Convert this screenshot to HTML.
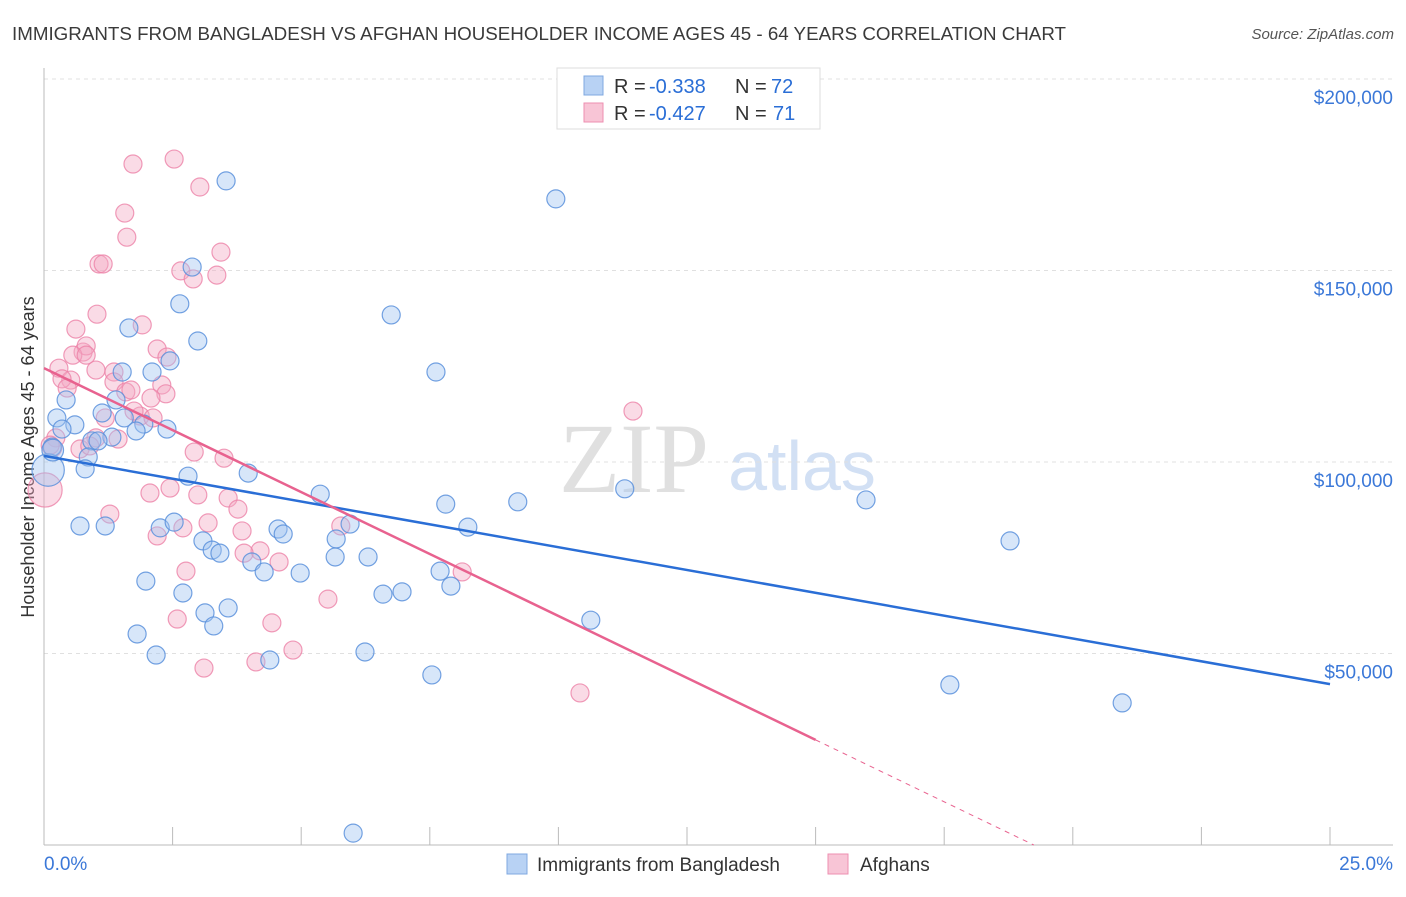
<!DOCTYPE html>
<html><head><meta charset="utf-8"><style>
body{margin:0;background:#fff;font-family:"Liberation Sans",sans-serif;}
</style></head><body>
<svg id="chart" width="1406" height="892" xmlns="http://www.w3.org/2000/svg" font-family="Liberation Sans, sans-serif">
<text x="12" y="40" font-size="18" fill="#3a3a3a" textLength="1054" lengthAdjust="spacingAndGlyphs">IMMIGRANTS FROM BANGLADESH VS AFGHAN HOUSEHOLDER INCOME AGES 45 - 64 YEARS CORRELATION CHART</text>
<text x="1394" y="39" font-size="15" fill="#555" font-style="italic" text-anchor="end">Source: ZipAtlas.com</text>
<text transform="translate(34,457) rotate(-90)" font-size="18" fill="#333" text-anchor="middle">Householder Income Ages 45 - 64 years</text>
<g>
<text x="634" y="492" font-size="100" style="font-family:'Liberation Serif',serif" fill="#e0e0e0" text-anchor="middle">ZIP</text>
<text x="802" y="490" font-size="70" fill="#d2e0f4" text-anchor="middle">atlas</text>
</g>
<g id="grid"></g><g id="axes"></g><g id="pts"></g><g id="lines"></g>
<g>
<rect x="557" y="68" width="263" height="61" fill="#fff" stroke="#ddd"/>
<rect x="584" y="76" width="19" height="19" fill="#b8d2f4" stroke="#7fa8e0"/>
<rect x="584" y="103" width="19" height="19" fill="#f8c5d6" stroke="#ee8fb0"/>
<text x="614" y="93" font-size="20" fill="#333">R =</text>
<text x="649" y="93" font-size="20" fill="#2a6ed6">-0.338</text>
<text x="735" y="93" font-size="20" fill="#333">N =</text>
<text x="771" y="93" font-size="20" fill="#2a6ed6">72</text>
<text x="614" y="120" font-size="20" fill="#333">R =</text>
<text x="649" y="120" font-size="20" fill="#2a6ed6">-0.427</text>
<text x="735" y="120" font-size="20" fill="#333">N =</text>
<text x="773" y="120" font-size="20" fill="#2a6ed6">71</text>
</g>
<g>
<rect x="507" y="854" width="20" height="20" fill="#b8d2f4" stroke="#7fa8e0"/>
<text x="537" y="871" font-size="19" fill="#333">Immigrants from Bangladesh</text>
<rect x="828" y="854" width="20" height="20" fill="#f8c5d6" stroke="#ee8fb0"/>
<text x="860" y="871" font-size="19" fill="#333">Afghans</text>
</g>
</svg>
<script>
const yTicks=[50000,100000,150000,200000];
const yTickLabels=["$50,000","$100,000","$150,000","$200,000"];
const xTickValues=[0,2.5,5,7.5,10,12.5,15,17.5,20,22.5,25];
const xEndLabels=["0.0%","25.0%"];
const blueX=[3.54,9.95,2.88,2.64,6.75,1.65,2.99,2.45,2.10,7.62,1.52,0.43,1.40,0.25,1.13,1.56,0.60,0.35,1.94,1.79,2.39,0.93,1.32,1.05,0.16,0.86,0.80,3.97,2.80,5.37,7.81,9.21,11.29,15.98,0.70,1.19,2.26,2.53,4.55,4.65,5.95,8.24,5.68,3.09,3.27,3.42,6.30,5.66,4.04,18.78,4.28,4.98,1.98,7.70,7.91,2.70,6.59,6.96,3.58,3.13,3.30,10.63,1.81,2.18,6.24,4.39,7.54,17.61,20.96,6.01,0.08,0.17];
const blueY=[173.4,168.7,150.9,141.3,138.4,135.0,131.6,126.4,123.5,123.5,123.5,116.2,116.2,111.5,112.8,111.5,109.7,108.6,109.9,108.1,108.6,105.5,106.5,105.5,103.9,101.3,98.2,97.1,96.3,91.6,89.0,89.6,93.0,90.1,83.3,83.3,82.8,84.3,82.5,81.2,83.8,83.0,79.9,79.4,77.0,76.2,75.2,75.2,73.9,79.4,71.3,71.0,68.9,71.5,67.6,65.8,65.5,66.1,61.9,60.6,57.2,58.7,55.1,49.6,50.4,48.3,44.4,41.8,37.1,3.1,97.9,103.1];
const blueSize=[1,1,1,1,1,1,1,1,1,1,1,1,1,1,1,1,1,1,1,1,1,1,1,1,1,1,1,1,1,1,1,1,1,1,1,1,1,1,1,1,1,1,1,1,1,1,1,1,1,1,1,1,1,1,1,1,1,1,1,1,1,1,1,1,1,1,1,1,1,1,1.8,1.2];
const pinkX=[2.53,1.73,3.03,1.57,1.61,1.07,1.15,3.44,2.66,2.90,3.36,1.03,1.91,0.62,0.76,0.82,0.56,2.20,2.39,1.36,0.29,1.01,0.52,0.35,1.36,1.59,1.69,2.29,0.45,2.37,2.08,1.19,1.87,1.75,11.45,0.23,1.01,1.44,0.70,0.17,0.89,2.92,3.50,0.02,2.45,2.06,2.99,3.58,1.28,3.77,3.19,5.77,2.70,2.20,3.85,4.20,3.89,4.57,2.76,8.13,5.52,2.59,4.43,4.84,4.12,3.11,10.42,0.12,2.12,0.82];
const pinkY=[179.1,177.8,171.8,165.0,158.7,151.7,151.7,154.8,149.9,147.8,148.8,138.6,135.8,134.7,128.7,130.3,127.9,129.5,127.4,123.5,124.5,124.0,121.4,121.7,120.9,118.3,118.8,120.1,119.3,117.8,116.7,111.5,112.0,113.3,113.3,106.3,106.3,106.0,103.4,103.7,104.2,102.6,101.0,92.7,93.2,91.9,91.4,90.6,86.4,87.7,84.1,83.3,82.8,80.7,82.0,76.8,76.2,73.9,71.5,71.3,64.2,59.0,58.0,50.9,47.8,46.2,39.7,104.4,111.5,127.9];
const pinkSize=[1,1,1,1,1,1,1,1,1,1,1,1,1,1,1,1,1,1,1,1,1,1,1,1,1,1,1,1,1,1,1,1,1,1,1,1,1,1,1,1,1,1,1,1.9,1,1,1,1,1,1,1,1,1,1,1,1,1,1,1,1,1,1,1,1,1,1,1,1,1,1];
const blueTrend=[101.6,42.0];   // value (k$) at x=0% and x=25%
const pinkTrend=[124.5,-6.47];  // intercept (k$), slope per %
const pinkSolidEnd=15;

const NS="http://www.w3.org/2000/svg";
const X=v=>44+v*51.44;
const Y=v=>845-v/261.1;
const Yk=v=>Y(v*1000);
function mk(tag,attrs,parent){const e=document.createElementNS(NS,tag);for(const k in attrs)e.setAttribute(k,attrs[k]);parent.appendChild(e);return e;}
const grid=document.getElementById('grid'),axes=document.getElementById('axes'),pts=document.getElementById('pts'),lines=document.getElementById('lines');
yTicks.forEach((t,i)=>{
  const l=mk('line',{x1:44,x2:1393,y1:Y(t),y2:Y(t),stroke:'#e0e0e0','stroke-dasharray':'4,4'},grid);
  
  
  const tx=mk('text',{x:1393,y:Y(t)+25,'font-size':19,fill:'#3b78d8','text-anchor':'end'},axes);
  tx.textContent=yTickLabels[i];
  
  
});
let a=mk('line',{x1:44,x2:44,y1:68,y2:845,stroke:'#bbb'},axes);


a=mk('line',{x1:44,x2:1393,y1:845,y2:845,stroke:'#bbb'},axes);


xTickValues.forEach(v=>{
  const t=mk('line',{x1:X(v),x2:X(v),y1:827,y2:845,stroke:'#bbb'},axes);
  
  
});
let lt=mk('text',{x:44,y:870,'font-size':19,fill:'#3b78d8'},axes);lt.textContent=xEndLabels[0];


lt=mk('text',{x:1393,y:870,'font-size':19,fill:'#3b78d8','text-anchor':'end'},axes);lt.textContent=xEndLabels[1];


pinkX.forEach((x,i)=>{
  const c=mk('circle',{cx:X(x),cy:Yk(pinkY[i]),r:9*pinkSize[i],fill:'rgba(244,170,196,0.42)',stroke:'rgba(236,130,168,0.8)','stroke-width':1.2},pts);
  
  
});
blueX.forEach((x,i)=>{
  const c=mk('circle',{cx:X(x),cy:Yk(blueY[i]),r:9*blueSize[i],fill:'rgba(160,196,240,0.42)',stroke:'rgba(90,145,220,0.85)','stroke-width':1.2},pts);
  
  
});
let tl=mk('line',{x1:X(0),y1:Yk(blueTrend[0]),x2:X(25),y2:Yk(blueTrend[1]),stroke:'#2a6ed6','stroke-width':2.5},lines);


const pz=-pinkTrend[0]/pinkTrend[1];
tl=mk('line',{x1:X(0),y1:Yk(pinkTrend[0]),x2:X(pinkSolidEnd),y2:Yk(pinkTrend[0]+pinkTrend[1]*pinkSolidEnd),stroke:'#e8628f','stroke-width':2.5},lines);


tl=mk('line',{x1:X(pinkSolidEnd),y1:Yk(pinkTrend[0]+pinkTrend[1]*pinkSolidEnd),x2:X(pz),y2:Yk(0),stroke:'#e8628f','stroke-width':1,'stroke-dasharray':'5,5'},lines);


</script>
</body></html>
